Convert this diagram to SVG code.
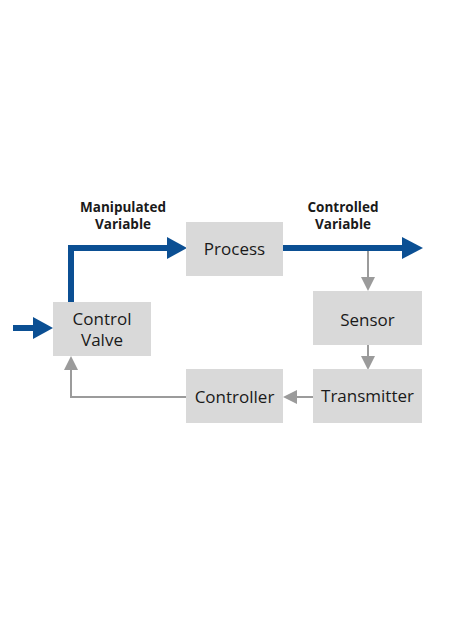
<svg xmlns="http://www.w3.org/2000/svg" width="474" height="632" viewBox="0 0 474 632">
<style>
.box{fill:#d9d9d9}
.t{font-family:"Open Sans","Liberation Sans",sans-serif;font-size:17px;fill:#1a1a1a;text-anchor:middle}
.lb{font-family:"Open Sans","Liberation Sans",sans-serif;font-size:13.5px;font-weight:bold;fill:#1a1a1a;text-anchor:middle}
.flow{fill:none;stroke:#0b4f93;stroke-width:6}
.sig{fill:none;stroke:#9b9b9b;stroke-width:2}
.ah{fill:#0b4f93}
.gh{fill:#9b9b9b}
</style>
<rect width="474" height="632" fill="#ffffff"/>
<g id="connectors">
<path class="flow" d="M13,328 H36"/>
<polygon class="ah" points="33,317 53,328 33,339"/>
<path class="flow" d="M71,302 V248 H170"/>
<polygon class="ah" points="167,237 187,248 167,259"/>
<path class="flow" d="M283,248 H405"/>
<polygon class="ah" points="402,237 423,248 402,259"/>
<path class="sig" d="M368,251 V278"/>
<polygon class="gh" points="361,277 375,277 368,291"/>
<path class="sig" d="M368,345 V357"/>
<polygon class="gh" points="361,356 375,356 368,370"/>
<path class="sig" d="M313,397 H296"/>
<polygon class="gh" points="297,390 297,404 283,397"/>
<path class="sig" d="M186,397 H71 V369"/>
<polygon class="gh" points="64,370 78,370 71,356"/>
</g>
<g id="label-manipulated">
<text class="lb" x="123" y="212">Manipulated</text>
<text class="lb" x="123" y="229">Variable</text>
</g>
<g id="label-controlled">
<text class="lb" x="343" y="212">Controlled</text>
<text class="lb" x="343" y="229">Variable</text>
</g>
<g id="node-valve">
<rect class="box" x="53" y="302" width="98" height="54"/>
<text class="t" x="102" y="325">Control</text>
<text class="t" x="102" y="346">Valve</text>
</g>
<g id="node-process">
<rect class="box" x="186" y="222" width="97" height="54"/>
<text class="t" x="234.5" y="255">Process</text>
</g>
<g id="node-sensor">
<rect class="box" x="313" y="291" width="109" height="54"/>
<text class="t" x="367.5" y="326">Sensor</text>
</g>
<g id="node-transmitter">
<rect class="box" x="313" y="369" width="109" height="54"/>
<text class="t" x="367.5" y="402">Transmitter</text>
</g>
<g id="node-controller">
<rect class="box" x="186" y="369" width="97" height="54"/>
<text class="t" x="234.5" y="403">Controller</text>
</g>
</svg>
